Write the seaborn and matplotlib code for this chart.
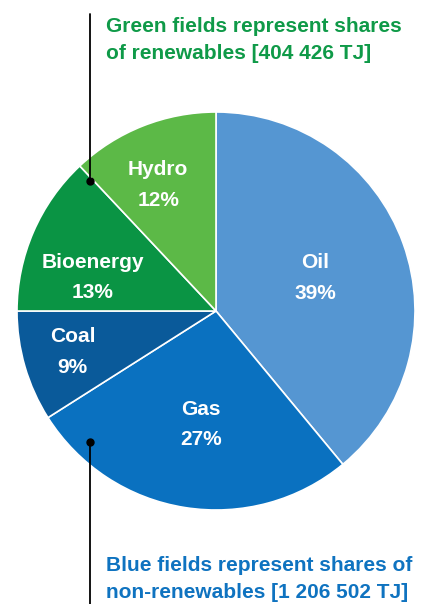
import matplotlib
matplotlib.use("Agg")
import matplotlib.pyplot as plt
import seaborn as sns

sns.set_theme(style="white")
plt.rcParams['font.family'] = ['Liberation Sans', 'DejaVu Sans']

categories = ["Oil", "Gas", "Coal", "Bioenergy", "Hydro"]
shares = [39, 27, 9, 13, 12]
colors = ["#5596d2", "#0a71c0", "#0a5a9a", "#0a9444", "#5cb947"]
label_pos = [(0.50, 0.166), (-0.075, -0.57), (-0.72, -0.206), (-0.62, 0.17), (-0.29, 0.633)]

W, H = 427, 604
fig = plt.figure(figsize=(W / 100, H / 100), dpi=100)
cx, cy, r = 216, 311, 199
ax = fig.add_axes([(cx - r) / W, 1 - (cy + r) / H, 2 * r / W, 2 * r / H])
wedges, _ = ax.pie(shares, colors=colors, startangle=90, counterclock=False,
                   radius=1.0, wedgeprops=dict(edgecolor="white", linewidth=1.2))
ax.set_xlim(-1, 1)
ax.set_ylim(-1, 1)
ax.set_aspect("equal")
ax.axis("off")

for cat, s, (x, y) in zip(categories, shares, label_pos):
    ax.text(x, y, f"{cat}\n{s}%", ha="center", va="center", color="white",
            fontsize=15, fontweight="bold", linespacing=1.75)

def fx(px):
    return px / W

def fy(py):
    return 1 - py / H

fig.add_artist(plt.Line2D([fx(90), fx(90)], [fy(14), fy(181)], color="black", lw=1.3))
fig.add_artist(plt.Line2D([fx(90)], [fy(181)], marker="o", markersize=5, color="black"))
fig.add_artist(plt.Line2D([fx(90), fx(90)], [fy(442), fy(604)], color="black", lw=1.3))
fig.add_artist(plt.Line2D([fx(90)], [fy(442)], marker="o", markersize=5, color="black"))

fig.text(fx(106), fy(40), "Green fields represent shares\nof renewables [404 426 TJ]",
         ha="left", va="center", color="#0f9a48", fontsize=15, fontweight="bold",
         linespacing=1.55)
fig.text(fx(106), fy(579), "Blue fields represent shares of\nnon-renewables [1 206 502 TJ]",
         ha="left", va="center", color="#0f73c0", fontsize=15, fontweight="bold",
         linespacing=1.5)

fig.savefig("out.png", dpi=100, facecolor="white")
